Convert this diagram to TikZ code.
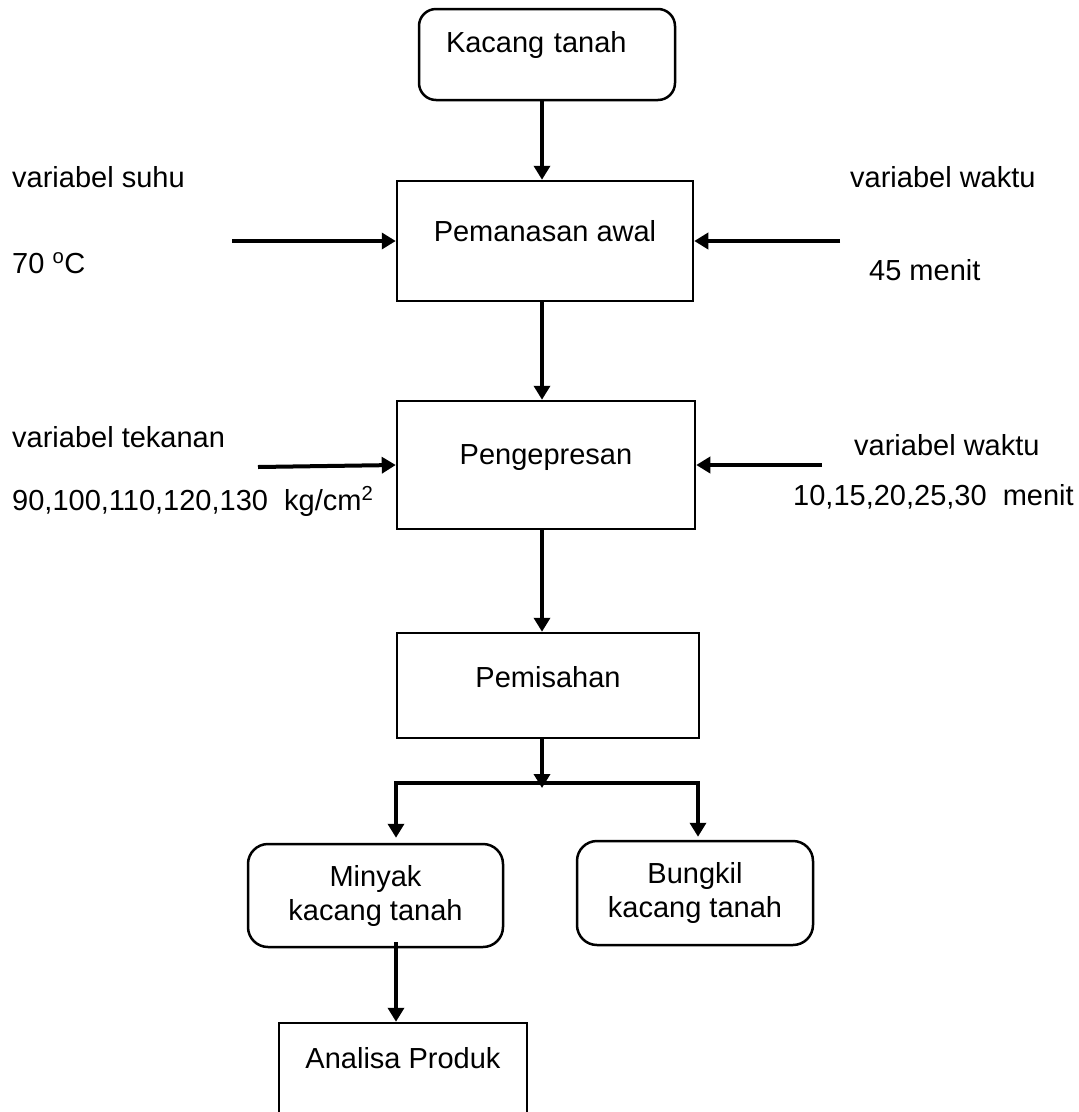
\documentclass[tikz,border=0pt]{standalone}
\usepackage{fontspec}
\setmainfont{Liberation Sans}
\usetikzlibrary{arrows.meta,positioning}
\tikzset{
  kotak/.style={draw,line width=2.5pt,inner sep=0pt},
  bulat/.style={kotak,rounded corners=17pt},
  panah/.style={line width=4pt,-{Triangle[length=14pt,width=16pt]}},
  garis/.style={line width=4pt},
  teks/.style={anchor=base west,inner sep=0pt},
}

\begin{document}
\begin{tikzpicture}[x=1pt,y=-1pt,font=\fontsize{29}{34}\selectfont]
  \useasboundingbox (0,0) rectangle (1079,1112);
  % kotak proses
  \node[bulat,minimum width=256pt,minimum height=91pt,text width=202pt,
    align=left,text depth=26pt] (kacang) at (547,54.5) {Kacang tanah};
  \node[kotak,minimum width=296pt,minimum height=120pt,text depth=21pt]
    (pemanasan) at (545,241) {Pemanasan awal};
  \node[kotak,minimum width=298pt,minimum height=128pt,text depth=21pt]
    (pengepresan) at (546,465) {Pengepresan};
  \node[kotak,minimum width=302pt,minimum height=105pt,text depth=18pt]
    (pemisahan) at (548,685.5) {Pemisahan};
  \node[bulat,rounded corners=20pt,minimum width=255pt,minimum height=103pt,
    align=center] (minyak) at (375.5,895.5) {Minyak\\kacang tanah};
  \node[bulat,rounded corners=20pt,minimum width=236pt,minimum height=104pt,
    align=center] (bungkil) at (695,893) {Bungkil\\kacang tanah};
  \node[kotak,minimum width=248pt,minimum height=120pt,text depth=51pt]
    (analisa) at (403,1083) {Analisa Produk};
  % variabel
  \node[teks] (suhu) at (12,187) {variabel suhu};
  \node[teks] (suhunilai) at (12,273) {70 \textsuperscript{o}C};
  \node[teks] (waktuA) at (850,187) {variabel waktu};
  \node[teks] (waktuAnilai) at (869,280) {45 menit};
  \node[teks] (tekanan) at (12,447) {variabel tekanan};
  \node[teks] (tekanannilai) at (12,510) {90,100,110,120,130\ \ kg/cm\textsuperscript{2}};
  \node[teks] (waktuB) at (854,455) {variabel waktu};
  \node[teks] (waktuBnilai) at (793,505) {10,15,20,25,30\ \ menit};
  % titik bantu
  \coordinate (poros) at (542,0);
  \coordinate (cabang) at (542,783);
  \coordinate (kiri) at (396,783);
  \coordinate (kanan) at (698,783);
  \coordinate (masukA) at (232,241);
  \coordinate (masukB) at (840,241);
  \coordinate (masukC) at (258,467);
  \coordinate (masukD) at (822,465);
  % panah
  \draw[panah] (kacang.south -| poros) -- (pemanasan.north -| poros);
  \draw[panah] (pemanasan.south -| poros) -- (pengepresan.north -| poros);
  \draw[panah] (pengepresan.south -| poros) -- (pemisahan.north -| poros);
  \draw[panah] (pemisahan.south -| poros) -- ([yshift=-5pt]cabang);
  \draw[panah,shorten >=5pt] (cabang) -- (kiri) -- (kiri |- minyak.north);
  \draw[panah,shorten >=3pt] (cabang) -- (kanan) -- (kanan |- bungkil.north);
  \draw[panah,shorten <=-6pt] (kiri |- minyak.south) -- (kiri |- analisa.north);
  \draw[panah] (masukA) -- (masukA -| pemanasan.west);
  \draw[panah] (masukB) -- (masukB -| pemanasan.east);
  \draw[panah] (masukC) -- (pengepresan.west);
  \draw[panah] (masukD) -- (masukD -| pengepresan.east);
\end{tikzpicture}
\end{document}
